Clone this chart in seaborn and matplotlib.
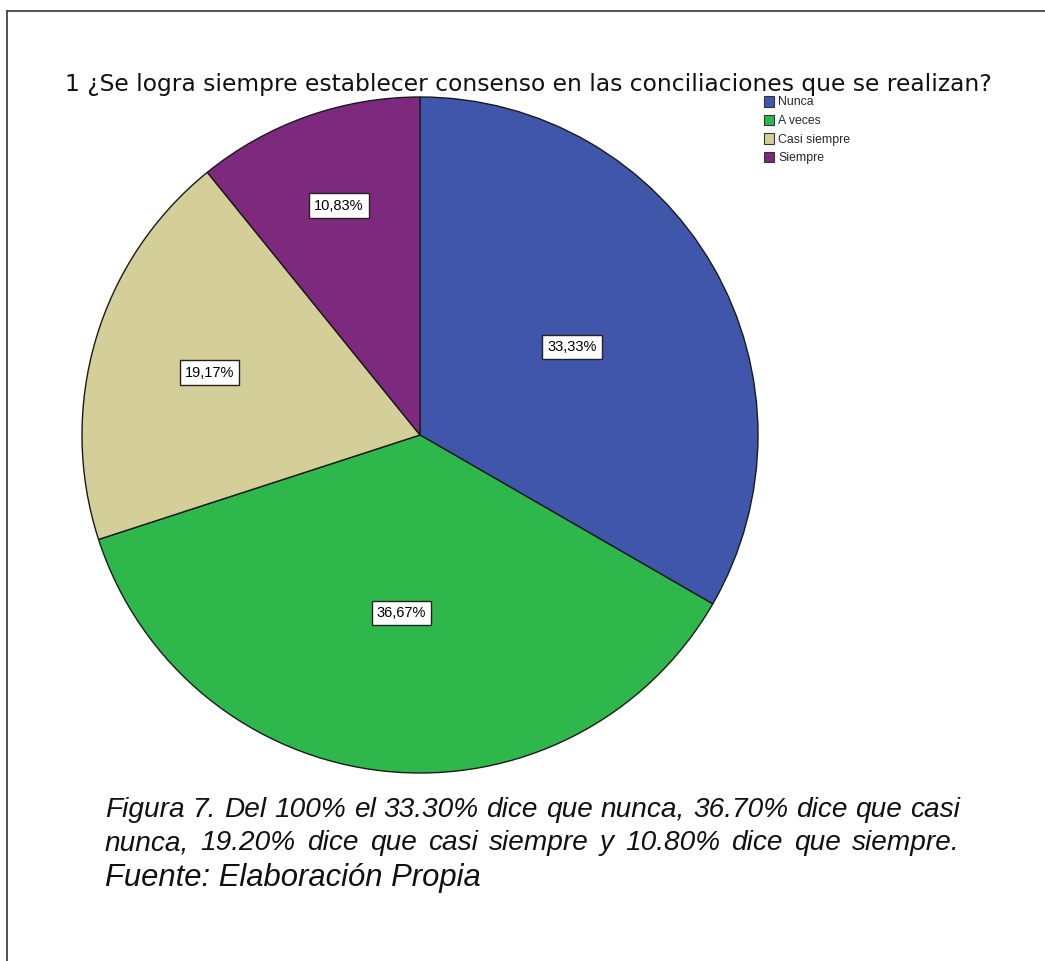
import matplotlib
matplotlib.use("Agg")
import numpy as np
import matplotlib.pyplot as plt
from matplotlib.lines import Line2D
from matplotlib.patches import Patch
import seaborn as sns

# Survey answers for question 1
categories = ["Nunca", "A veces", "Casi siempre", "Siempre"]
percentages = [33.33, 36.67, 19.17, 10.83]
pct_labels = ["33,33%", "36,67%", "19,17%", "10,83%"]
slice_colors = ["#3F56AB", "#2EB84B", "#D4CF98", "#7D2A7E"]

title = "1 ¿Se logra siempre establecer consenso en las conciliaciones que se realizan?"
caption_lines = [
    "Figura 7. Del 100% el 33.30% dice que nunca, 36.70% dice que casi",
    "nunca, 19.20% dice que casi siempre y 10.80% dice que siempre.",
]
source_line = "Fuente: Elaboración Propia"

# radial placement of each value label (fraction of the radius)
label_radius = [0.52, 0.53, 0.65, 0.72]

sns.set_theme(style="white")
plt.rcParams["font.family"] = ["Liberation Sans", "DejaVu Sans"]

W, H = 1045, 961
fig = plt.figure(figsize=(W / 100, H / 100), dpi=100)
fig.patch.set_facecolor("white")

# Pie axes placed in pixel terms: centre (420, 435), radius 338
cx, cy, r = 420, 435, 338
ax = fig.add_axes([(cx - r) / W, 1 - (cy + r) / H, 2 * r / W, 2 * r / H])
wedges, texts = ax.pie(
    percentages,
    colors=slice_colors,
    startangle=90,
    counterclock=False,
    labels=pct_labels,
    labeldistance=0.5,
    wedgeprops=dict(edgecolor="#1a1a1a", linewidth=1.0),
    textprops=dict(fontsize=10.5, color="black"),
)
for w, t, d in zip(wedges, texts, label_radius):
    mid = np.deg2rad((w.theta1 + w.theta2) / 2)
    t.set_position((d * np.cos(mid), d * np.sin(mid)))
    t.set_ha("center")
    t.set_va("center")
    t.set_bbox(dict(boxstyle="square,pad=0.35", facecolor="white", edgecolor="#222222", linewidth=1.0))
ax.set_xlim(-1.0, 1.0)
ax.set_ylim(-1.0, 1.0)
ax.set_aspect("equal")
ax.axis("off")

# Title
fig.text(528 / W, 1 - 84 / H, title, ha="center", va="center", fontsize=16.8,
         color="#111111", family=["DejaVu Sans"])

# Legend
handles = [Patch(facecolor=c, edgecolor="#333333", linewidth=0.8) for c in slice_colors]
fig.legend(
    handles, categories,
    loc="upper left", bbox_to_anchor=(764 / W, 1 - 96 / H),
    frameon=False, fontsize=8.8, handlelength=0.85, handleheight=0.95,
    handletextpad=0.3, labelspacing=0.5, borderpad=0.0, borderaxespad=0.0,
)


def justified_line(text, x0, x1, y, **kw):
    """Draw a line of text with its words spread evenly between x0 and x1 (pixels)."""
    words = text.split(" ")
    renderer = fig.canvas.get_renderer()
    arts = [fig.text(0, 1 - y / H, w, ha="left", va="center", **kw) for w in words]
    widths = [a.get_window_extent(renderer).width for a in arts]
    gap = (x1 - x0 - sum(widths)) / (len(words) - 1)
    x = x0
    for a, w in zip(arts, widths):
        a.set_x(x / W)
        x += w + gap


caption_kw = dict(fontsize=20.2, style="italic", color="#111111")
justified_line(caption_lines[0], 105, 960, 810, **caption_kw)
justified_line(caption_lines[1], 105, 960, 843, **caption_kw)
fig.text(105 / W, 1 - 878 / H, source_line, ha="left", va="center",
         fontsize=22.3, style="italic", color="#111111")

# Page frame (top and left edges)
fig.add_artist(Line2D([7 / W, 7 / W], [0, 1 - 11 / H], transform=fig.transFigure,
                      color="#333333", linewidth=1.2))
fig.add_artist(Line2D([7 / W, 1], [1 - 11 / H, 1 - 11 / H], transform=fig.transFigure,
                      color="#333333", linewidth=1.2))

fig.savefig("out.png", dpi=100, facecolor="white")
